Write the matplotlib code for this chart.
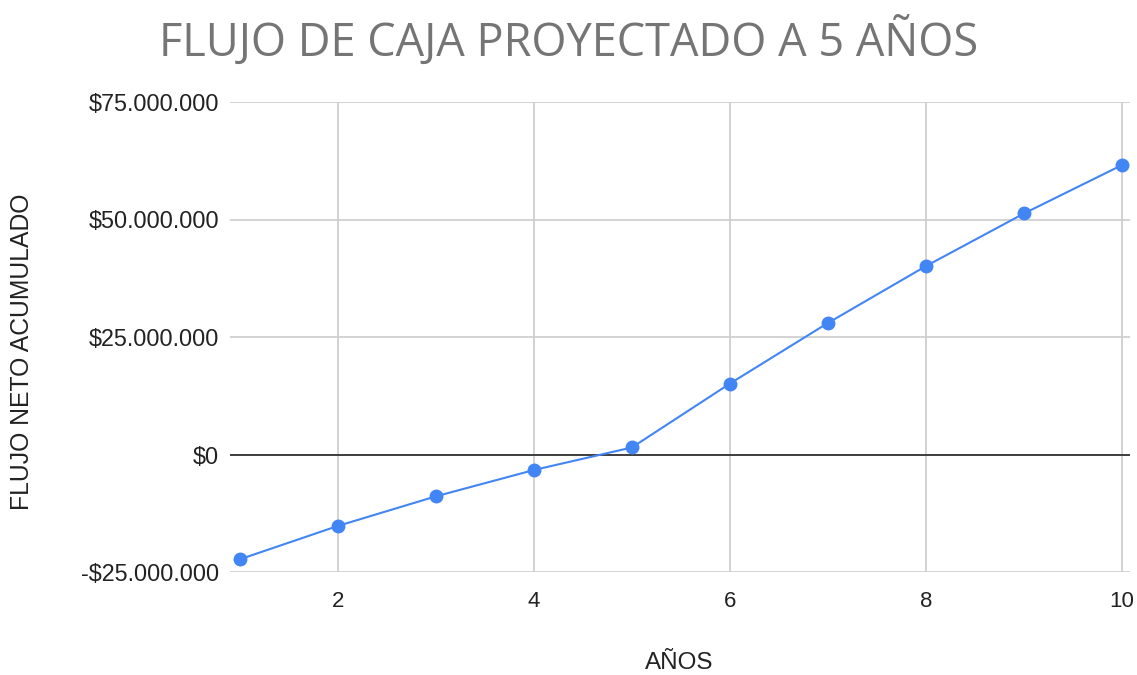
import matplotlib
matplotlib.use("Agg")
import matplotlib.pyplot as plt
from matplotlib.ticker import FuncFormatter

years = [1, 2, 3, 4, 5, 6, 7, 8, 9, 10]
flujo_acumulado = [-22.3e6, -15.2e6, -8.9e6, -3.3e6, 1.5e6, 15.1e6, 28.0e6, 40.1e6, 51.3e6, 61.6e6]
x_ticks = [2, 4, 6, 8, 10]
y_ticks = [-25e6, 0, 25e6, 50e6, 75e6]

title = "FLUJO DE CAJA PROYECTADO A 5 AÑOS"
xlabel = "AÑOS"
ylabel = "FLUJO NETO ACUMULADO"

fig = plt.figure(figsize=(11.37, 6.75), dpi=100)
ax = fig.add_axes([230/1137, 1 - 572/675, 900/1137, 470/675])

ax.plot(years, flujo_acumulado, color="#4285F4", linewidth=1.5, marker="o",
        markersize=9, zorder=3)

def fmt(v, pos):
    if v == 0:
        return "$0"
    s = f"{abs(v):,.0f}".replace(",", ".")
    return ("-$" if v < 0 else "$") + s

ax.set_xlim(0.9, 10.08)
ax.set_ylim(-25e6, 75e6)
ax.set_xticks(x_ticks)
ax.set_yticks(y_ticks)
ax.yaxis.set_major_formatter(FuncFormatter(fmt))

ax.grid(True, color="#cccccc", linewidth=1.2)
ax.axhline(0, color="#333333", linewidth=1.3, zorder=2)
for s in ax.spines.values():
    s.set_visible(False)
ax.tick_params(length=0, labelsize=16, colors="#222222")
ax.tick_params(axis="y", pad=8, labelsize=16.8)
ax.tick_params(axis="x", pad=14)
for lab in ax.get_xticklabels() + ax.get_yticklabels():
    lab.set_fontfamily("Liberation Sans")

fig.text(0.5, 1 - 42/675, title, ha="center", va="center", fontsize=32.5,
         color="#757575", family="Open Sans")
fig.text(679/1137, 1 - 663/675, xlabel, ha="center", va="center", fontsize=17.5,
         color="#222222", family="Liberation Sans")
fig.text(22/1137, 1 - 352/675, ylabel, ha="center", va="center", fontsize=17.8,
         color="#222222", family="Liberation Sans", rotation=90)

fig.savefig("out.png", dpi=100, facecolor="white")
